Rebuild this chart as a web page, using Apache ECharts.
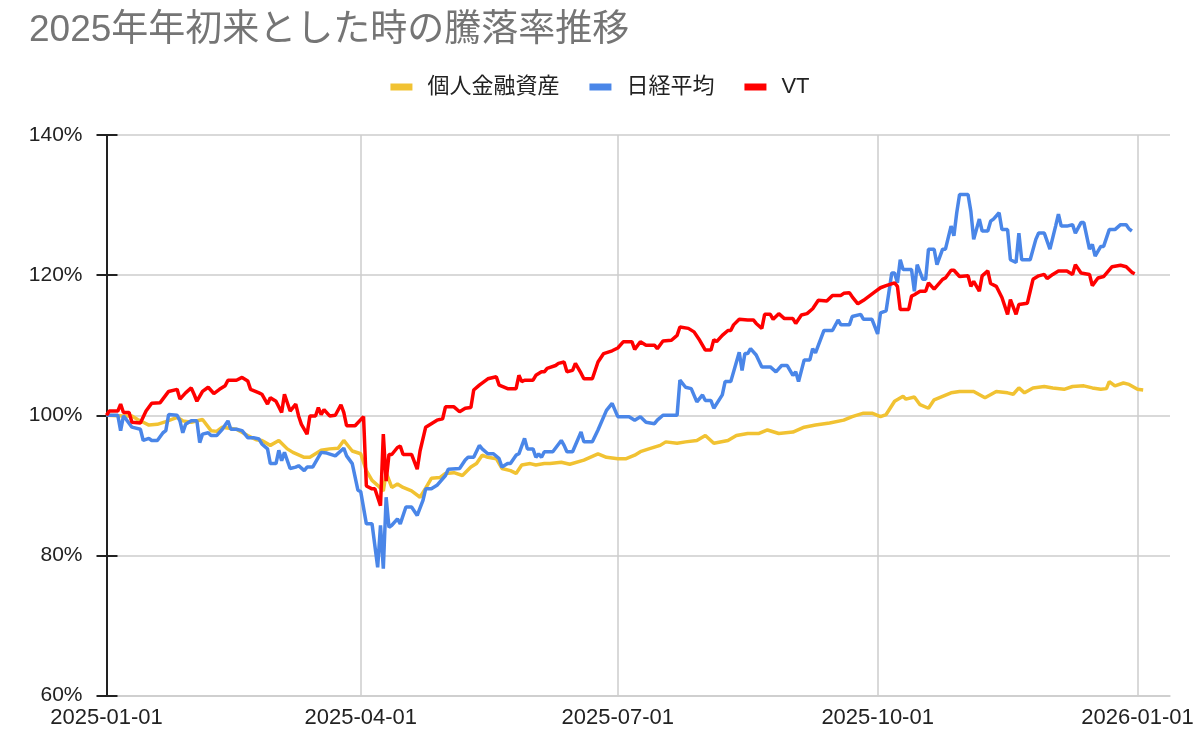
<!DOCTYPE html>
<html><head><meta charset="utf-8">
<script src="https://cdn.jsdelivr.net/npm/echarts@6/dist/echarts.min.js"></script>
<style>html,body{margin:0;padding:0;background:#fff}#c{width:1200px;height:737px}</style>
</head><body><div id="c"></div>
<script>
const titleText = '2025年年初来とした時の騰落率推移';
const seriesNames = ['個人金融資産', '日経平均', 'VT'];
const xTickDates = ['2025-01-01', '2025-04-01', '2025-07-01', '2025-10-01', '2026-01-01'];
const xMaxDate = '2026-01-12';
const yTicks = [60, 80, 100, 120, 140];

// [days since 2025-01-01, % of start value]
const household = [[0,100],[6,99.9],[9,99.9],[11,99.4],[13,99.0],[15,98.6],[18,98.7],[21,99.1],[25,99.7],[27,99.2],[30,99.0],[34,99.4],[37,97.8],[39,97.7],[41,98.3],[46,98.0],[50,97.1],[53,96.5],[55,96.4],[58,95.7],[61,96.4],[64,95.2],[66,94.7],[70,94.0],[72,94.0],[76,95.0],[79,95.2],[82,95.3],[84,96.4],[86,95.4],[87,94.9],[90,94.5],[92,92.1],[94,90.7],[96,90.0],[98,89.2],[99,91.8],[101,89.7],[103,90.2],[105,89.7],[108,89.2],[111,88.3],[113,89.6],[115,91.0],[118,91.1],[120,91.7],[123,91.8],[126,91.4],[129,92.6],[131,93.1],[133,94.3],[135,94.0],[138,93.8],[140,92.4],[143,92.1],[145,91.7],[147,92.9],[150,93.1],[152,92.9],[155,93.1],[157,93.1],[161,93.3],[164,93.0],[169,93.6],[174,94.5],[177,94.0],[181,93.8],[184,93.8],[187,94.3],[189,94.8],[192,95.2],[196,95.7],[198,96.2],[202,96.0],[205,96.2],[209,96.4],[212,97.1],[215,96.0],[220,96.4],[223,97.1],[227,97.4],[231,97.4],[234,97.9],[238,97.4],[243,97.6],[247,98.3],[251,98.6],[256,98.9],[261,99.3],[264,99.8],[268,100.3],[271,100.3],[274,99.8],[276,100.1],[279,102.0],[282,102.7],[283,102.3],[286,102.6],[288,101.5],[291,101.0],[293,102.2],[296,102.7],[299,103.2],[302,103.4],[307,103.4],[311,102.5],[315,103.4],[319,103.2],[321,103.0],[323,103.9],[325,103.2],[328,103.9],[332,104.1],[335,103.9],[339,103.7],[342,104.1],[346,104.2],[349,103.9],[352,103.7],[354,103.8],[355,104.8],[357,104.2],[360,104.6],[362,104.4],[365,103.7],[367,103.6]];

const nikkei = [[0,100],[2,100],[4,100],[5,97.8],[6,99.9],[7,99.4],[9,98.3],[12,98.0],[13,96.4],[15,96.7],[16,96.4],[18,96.4],[20,97.5],[21,97.8],[22,100.1],[25,100.0],[26,99.2],[27,97.5],[28,98.7],[30,99.2],[32,99.2],[33,96.1],[34,97.3],[36,97.5],[37,97.1],[39,97.1],[41,98.0],[43,99.2],[44,98.0],[46,98.0],[48,97.8],[50,96.8],[52,96.8],[54,96.6],[55,95.9],[57,95.2],[58,93.1],[60,93.1],[61,95.0],[62,93.5],[63,94.7],[65,92.4],[67,92.6],[68,92.8],[70,92.1],[71,92.6],[73,92.6],[76,94.7],[78,94.6],[81,94.2],[84,95.3],[85,94.2],[87,93.1],[89,89.3],[90,89.1],[92,84.5],[94,84.5],[96,78.3],[97,84.3],[98,78.1],[99,88.3],[100,84.0],[101,84.3],[103,85.2],[104,84.5],[106,86.9],[108,86.9],[110,85.7],[112,87.8],[113,89.5],[115,89.5],[117,90.0],[120,91.4],[121,92.3],[125,92.4],[127,93.6],[128,94.0],[130,94.0],[132,95.7],[133,95.2],[135,94.5],[137,94.5],[139,93.8],[140,92.6],[142,93.1],[143,93.1],[145,94.3],[146,94.5],[148,96.7],[149,95.2],[151,95.2],[152,94.0],[153,94.5],[154,94.0],[155,94.8],[158,94.8],[161,96.4],[162,95.7],[163,94.8],[165,94.8],[168,97.6],[169,96.2],[172,96.2],[174,97.9],[177,100.7],[179,101.7],[181,99.8],[185,99.8],[187,99.3],[189,99.8],[191,99.0],[194,98.8],[195,99.3],[197,100.0],[202,100.0],[203,105.0],[205,104.0],[207,103.8],[209,101.9],[211,102.9],[212,102.1],[214,102.1],[215,101.0],[218,102.9],[219,104.8],[221,104.8],[224,109.0],[225,106.4],[226,108.8],[227,108.8],[228,109.5],[230,108.6],[232,106.9],[235,106.9],[237,106.2],[239,107.1],[241,107.1],[243,105.7],[244,106.2],[245,104.8],[247,107.9],[249,107.9],[250,109.5],[251,108.9],[254,112.1],[257,112.1],[259,113.6],[260,112.9],[263,112.9],[264,114.1],[267,114.4],[268,113.7],[271,113.7],[273,111.6],[274,114.6],[276,114.9],[278,120.3],[279,120.3],[280,118.9],[281,122.2],[282,120.8],[285,120.8],[286,117.7],[287,121.5],[289,119.4],[290,119.4],[291,123.7],[293,123.7],[294,121.5],[296,123.7],[297,123.7],[299,127.0],[300,125.6],[301,128.9],[302,131.5],[305,131.5],[306,129.1],[307,125.1],[309,128.0],[310,126.3],[312,126.3],[313,127.7],[314,128.0],[316,128.9],[317,126.5],[319,126.5],[320,122.2],[322,121.8],[323,126.0],[324,122.2],[327,122.2],[329,125.1],[330,126.0],[332,126.0],[334,123.7],[336,127.0],[337,128.7],[338,127.0],[340,127.0],[342,127.2],[343,126.0],[345,127.5],[346,127.5],[348,123.7],[349,124.4],[350,122.7],[352,124.1],[353,124.1],[355,126.5],[357,126.5],[359,127.2],[361,127.2],[362,126.6],[363,126.3]];

const vt = [[0,100],[1,100.6],[4,100.6],[5,101.6],[6,100.4],[8,100.4],[9,99.0],[12,98.9],[14,100.6],[16,101.7],[19,101.8],[22,103.4],[25,103.7],[26,102.3],[28,103.2],[30,103.9],[31,103.0],[32,102.0],[34,103.4],[36,104.0],[38,103.1],[40,103.7],[42,104.2],[43,105.0],[46,105.0],[48,105.4],[50,104.9],[51,103.7],[54,103.2],[55,103.0],[57,101.6],[58,102.5],[60,102.0],[62,100.4],[63,103.0],[65,100.6],[67,101.6],[68,99.9],[69,98.7],[71,97.3],[72,99.9],[74,99.9],[75,101.1],[76,100.1],[77,100.8],[79,99.9],[81,100.0],[83,101.5],[84,100.4],[85,98.5],[88,98.5],[91,99.8],[92,89.9],[94,89.5],[95,89.5],[97,87.1],[98,97.3],[99,90.6],[100,94.4],[101,94.4],[103,95.4],[104,95.6],[105,94.4],[108,94.4],[110,92.3],[111,94.9],[113,98.3],[115,98.8],[117,99.3],[119,99.5],[120,101.2],[123,101.2],[125,100.5],[127,101.0],[129,101.1],[130,103.6],[132,104.3],[135,105.2],[138,105.5],[139,104.3],[142,103.8],[145,103.8],[146,105.7],[147,104.8],[148,105.0],[151,105.0],[152,105.7],[154,106.2],[155,106.2],[156,106.7],[159,107.1],[160,107.4],[162,107.6],[163,106.2],[165,106.4],[166,107.4],[168,106.0],[169,105.2],[172,105.2],[174,107.6],[176,108.8],[179,109.2],[181,109.6],[183,110.5],[186,110.5],[187,109.4],[189,110.5],[191,110.0],[194,110.0],[195,109.5],[197,110.6],[200,110.7],[202,111.4],[203,112.6],[206,112.4],[208,111.9],[210,110.7],[212,109.3],[214,109.3],[215,110.8],[216,110.5],[218,111.4],[220,112.1],[221,112.1],[222,112.9],[224,113.7],[227,113.6],[229,113.6],[230,113.1],[232,112.4],[233,114.4],[235,114.4],[236,113.7],[238,114.5],[240,113.8],[243,113.8],[244,113.1],[246,114.3],[248,114.5],[250,115.2],[252,116.4],[255,116.3],[257,117.1],[260,117.1],[261,117.4],[263,117.5],[264,116.9],[266,115.9],[268,116.4],[270,117.0],[272,117.6],[274,118.2],[276,118.5],[279,118.9],[280,118.4],[281,115.1],[284,115.1],[285,117.0],[286,117.2],[288,117.7],[290,117.7],[291,118.9],[293,118.0],[296,119.4],[297,119.6],[299,120.7],[300,120.7],[302,119.8],[305,119.9],[306,118.4],[307,119.1],[309,117.7],[310,119.9],[312,120.6],[313,118.8],[315,118.4],[317,116.8],[319,114.4],[320,116.5],[322,114.4],[323,115.8],[326,116.0],[327,117.7],[328,119.4],[330,119.9],[332,120.1],[333,119.5],[335,120.1],[337,120.6],[340,120.6],[342,120.1],[343,121.5],[345,120.3],[348,120.1],[349,118.5],[351,119.6],[353,119.8],[356,121.2],[359,121.4],[361,121.2],[363,120.4],[364,120.2]];

const colors = ['#f1c232', '#4a86e8', '#ff0000'];
const FONT = '"Liberation Sans", Arial, "Noto Sans CJK JP", sans-serif';

function parseDate(s) { const p = s.split('-').map(Number); return Date.UTC(p[0], p[1] - 1, p[2]); }
const DAY = 86400000;
const base = parseDate(xTickDates[0]);
function toSeries(arr) { return arr.map(function (p) { return [base + p[0] * DAY, p[1]]; }); }
const xTicks = xTickDates.map(parseDate);
function fmtDate(v) {
  const d = new Date(v);
  const mm = String(d.getUTCMonth() + 1).padStart(2, '0');
  const dd = String(d.getUTCDate()).padStart(2, '0');
  return d.getUTCFullYear() + '-' + mm + '-' + dd;
}

const chart = echarts.init(document.getElementById('c'), null, { renderer: 'canvas' });
chart.setOption({
  animation: false,
  backgroundColor: '#fff',
  title: {
    text: titleText, left: 24, top: 7,
    textStyle: { fontSize: 37, color: '#757575', fontWeight: 'normal', fontFamily: FONT }
  },
  legend: {
    top: 71, left: 'center', icon: 'rect', itemWidth: 22, itemHeight: 7, itemGap: 30,
    data: seriesNames,
    textStyle: { fontSize: 22, color: '#222', fontFamily: FONT, padding: [0, 0, 0, 10] }
  },
  grid: { left: 106.5, right: 30, top: 135, bottom: 41.5, containLabel: false },
  xAxis: {
    type: 'value',
    min: xTicks[0],
    max: parseDate(xMaxDate) + DAY / 2,
    axisLine: { show: true, onZero: false, lineStyle: { color: '#cccccc', width: 1.5 } },
    axisTick: { show: false, customValues: xTicks },
    axisLabel: { customValues: xTicks, formatter: fmtDate, fontSize: 22, color: '#222', fontFamily: FONT, margin: 11 },
    splitLine: { show: true, lineStyle: { color: '#cccccc', width: 1.5 } }
  },
  yAxis: [{
    type: 'value', min: yTicks[0], max: yTicks[yTicks.length - 1], interval: yTicks[1] - yTicks[0], position: 'left',
    axisLine: { show: true, lineStyle: { color: '#222', width: 2 } },
    axisTick: { show: true, length: 10, lineStyle: { color: '#222', width: 2 } },
    axisLabel: { formatter: '{value}%', margin: 24, fontSize: 21, color: '#222', fontFamily: FONT },
    splitLine: { show: true, lineStyle: { color: '#cccccc', width: 1.5 } }
  }, {
    type: 'value', min: yTicks[0], max: yTicks[yTicks.length - 1], interval: yTicks[1] - yTicks[0], position: 'left',
    axisLine: { show: false },
    axisTick: { show: true, inside: true, length: 11, lineStyle: { color: '#222', width: 2 } },
    axisLabel: { show: false },
    splitLine: { show: false }
  }],
  series: [
    { name: seriesNames[0], type: 'line', data: toSeries(household), color: colors[0], showSymbol: false, lineStyle: { width: 3.5, color: colors[0] } },
    { name: seriesNames[1], type: 'line', data: toSeries(nikkei), color: colors[1], showSymbol: false, lineStyle: { width: 3.5, color: colors[1] } },
    { name: seriesNames[2], type: 'line', data: toSeries(vt), color: colors[2], showSymbol: false, lineStyle: { width: 3.5, color: colors[2] } }
  ]
});
</script></body></html>
